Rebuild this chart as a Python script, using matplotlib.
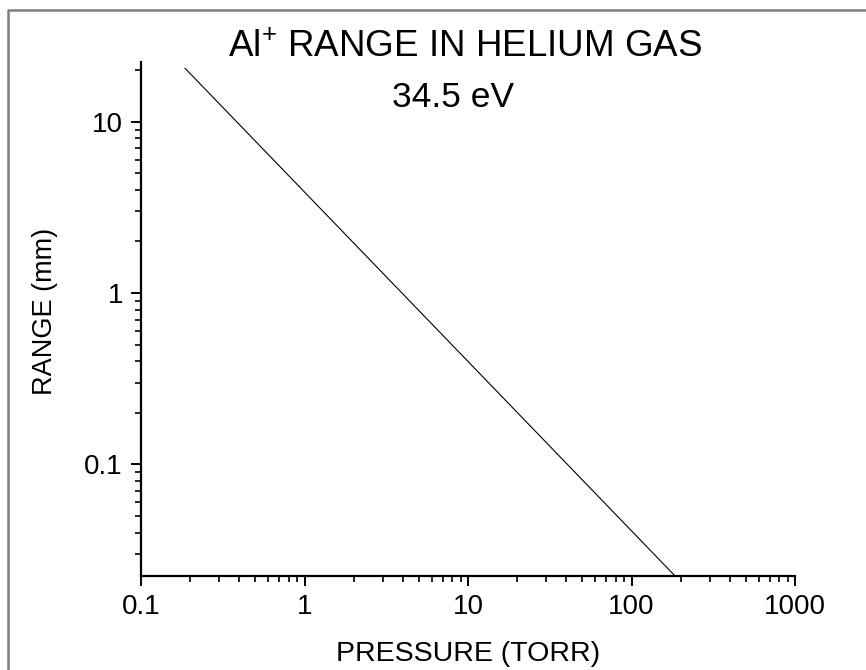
import matplotlib
matplotlib.use("Agg")
import matplotlib.pyplot as plt
from matplotlib.lines import Line2D
from matplotlib.ticker import LogLocator, FixedLocator, NullFormatter

plt.rcParams['font.family'] = ['Liberation Sans', 'DejaVu Sans']
plt.rcParams['mathtext.fontset'] = 'custom'
plt.rcParams['mathtext.rm'] = 'Liberation Sans'
plt.rcParams['mathtext.it'] = 'Liberation Sans'

# Data
pressure_torr = [0.186, 184.0]
range_mm = [20.5, 0.0224]

x_ticks = [0.1, 1, 10, 100, 1000]
x_tick_labels = ["0.1", "1", "10", "100", "1000"]
y_ticks = [0.1, 1, 10]
y_tick_labels = ["0.1", "1", "10"]

title_line1 = "Al$^{+}$ RANGE IN HELIUM GAS"
title_line2 = "34.5 eV"
x_label = "PRESSURE (TORR)"
y_label = "RANGE (mm)"

W, H = 866, 670
fig = plt.figure(figsize=(W / 100, H / 100), dpi=100)
ax = fig.add_axes([141 / W, 1 - 575.7 / H, (795 - 141) / W, (575.7 - 61.7) / H])

ax.plot(pressure_torr, range_mm, color='black', linewidth=0.8)
ax.set_xscale('log')
ax.set_yscale('log')
ax.set_xlim(0.1, 1000)
ax.set_ylim(0.0224, 22.4)

ax.xaxis.set_major_locator(FixedLocator(x_ticks))
ax.set_xticklabels(x_tick_labels)
ax.yaxis.set_major_locator(FixedLocator(y_ticks))
ax.set_yticklabels(y_tick_labels)
ax.xaxis.set_minor_locator(LogLocator(base=10, subs=range(2, 10), numticks=20))
ax.yaxis.set_minor_locator(LogLocator(base=10, subs=range(2, 10), numticks=20))
ax.xaxis.set_minor_formatter(NullFormatter())
ax.yaxis.set_minor_formatter(NullFormatter())

for s in ['top', 'right']:
    ax.spines[s].set_visible(False)
for s in ['left', 'bottom']:
    ax.spines[s].set_linewidth(1.6)

ax.tick_params(which='major', direction='out', length=7, width=1.4,
               labelsize=20, pad=6)
ax.tick_params(which='minor', direction='out', length=4, width=1.2)

# Axis labels
fig.text(468 / W, 1 - 661 / H, x_label, ha='center', va='baseline', fontsize=20.5)
fig.text(45 / W, 1 - 311 / H, y_label, ha='center', va='center',
         rotation=90, fontsize=19.5)

# Titles
fig.text(465 / W, 1 - 56.7 / H, title_line1, ha='center', va='baseline', fontsize=26.5)
fig.text(453.5 / W, 1 - 107.3 / H, title_line2, ha='center', va='baseline', fontsize=25.5)

# Figure border (left and top visible)
fig.add_artist(Line2D([8 / W, 8 / W, 1.0], [0.0, 1 - 10 / H, 1 - 10 / H],
                      transform=fig.transFigure, color='#7f7f7f', linewidth=1.8))

fig.savefig("out.png", dpi=100)
